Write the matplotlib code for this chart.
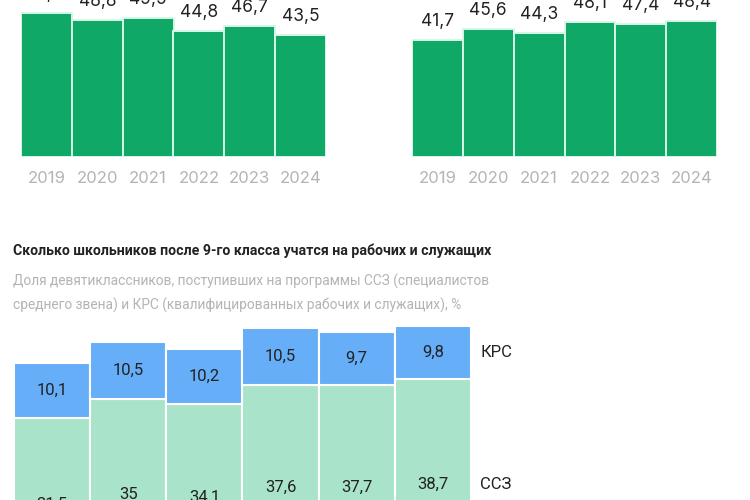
import matplotlib
matplotlib.use("Agg")
import matplotlib.pyplot as plt

# data
years = ["2019", "2020", "2021", "2022", "2023", "2024"]
left_vals = [51.2, 48.8, 49.5, 44.8, 46.7, 43.5]
right_vals = [41.7, 45.6, 44.3, 48.1, 47.4, 48.4]
ssz_vals = [31.5, 35, 34.1, 37.6, 37.7, 38.7]
krs_vals = [10.1, 10.5, 10.2, 10.5, 9.7, 9.8]

title = "Сколько школьников после 9-го класса учатся на рабочих и служащих"
subtitle = ("Доля девятиклассников, поступивших на программы ССЗ (специалистов\n"
            "среднего звена) и КРС (квалифицированных рабочих и служащих), %")

GREEN = "#0fa866"
EDGE = "#d6f6e8"
BLUE = "#66aef8"
LIGHT = "#a9e3c9"
DARK = "#222222"
GREY = "#b4b4b4"

NARROW = ["Roboto", "DejaVu Sans"]
WIDE = ["Inter", "Roboto", "DejaVu Sans"]

W, H = 750, 500
fig = plt.figure(figsize=(7.5, 5), dpi=100)
fig.patch.set_facecolor("white")


def px_axes(x0, x1, base, scale, ymax):
    """axes placed in pixel coords: x0..x1, baseline at y=base px from top"""
    height = ymax * scale
    return fig.add_axes([x0 / W, 1 - base / H, (x1 - x0) / W, height / H])


def fmt(v):
    s = f"{v:g}"
    return s.replace(".", ",")


def top_chart(ax, vals):
    x = range(len(vals))
    ax.bar(x, vals, width=1.0, color=GREEN, edgecolor=EDGE, linewidth=1.4)
    for i, v in enumerate(vals):
        ax.annotate(fmt(v), (i, v), xytext=(0, 10), textcoords="offset points",
                    ha="center", va="baseline", fontsize=12.5, color=DARK,
                    family=WIDE)
    ax.set_xlim(-0.5, len(vals) - 0.5)
    ax.set_ylim(0, 60)
    ax.set_xticks(list(x))
    ax.set_xticklabels(years, fontsize=12, color=GREY, family=WIDE)
    ax.tick_params(axis="x", length=0, pad=10)
    ax.set_yticks([])
    for s in ax.spines.values():
        s.set_visible(False)
    ax.patch.set_alpha(0)


ax1 = px_axes(21, 326, 157, 2.81, 60)
top_chart(ax1, left_vals)
ax2 = px_axes(412, 717, 157, 2.81, 60)
top_chart(ax2, right_vals)

# title + subtitle
fig.text(13 / W, 1 - 255 / H, title, fontsize=10.15, fontweight="bold",
         color=DARK, family=NARROW, va="baseline")
fig.text(13 / W, 1 - 274 / H, subtitle, fontsize=9.9, color=GREY,
         family=NARROW, va="top", linespacing=1.7)

# stacked chart, baseline sits below the visible area
ax3 = px_axes(14, 471, 590, 5.45, 50)
x = range(len(years))
ax3.bar(x, ssz_vals, width=1.0, color=LIGHT, edgecolor="white", linewidth=1.5)
ax3.bar(x, krs_vals, width=1.0, bottom=ssz_vals, color=BLUE,
        edgecolor="white", linewidth=1.5)
for i in x:
    ax3.text(i, ssz_vals[i] / 2, fmt(ssz_vals[i]), ha="center", va="center",
             fontsize=12, color=DARK, family=NARROW)
    ax3.text(i, ssz_vals[i] + krs_vals[i] / 2, fmt(krs_vals[i]), ha="center",
             va="center", fontsize=12, color=DARK, family=NARROW)
ax3.text(5.62, ssz_vals[-1] + krs_vals[-1] / 2, "КРС", ha="left", va="center",
         fontsize=12, color=DARK, family=NARROW)
ax3.text(5.62, ssz_vals[-1] / 2, "ССЗ", ha="left", va="center",
         fontsize=12, color=DARK, family=NARROW)
ax3.set_xlim(-0.5, 5.5)
ax3.set_ylim(0, 50)
ax3.axis("off")

fig.savefig("out.png", dpi=100, facecolor="white")
